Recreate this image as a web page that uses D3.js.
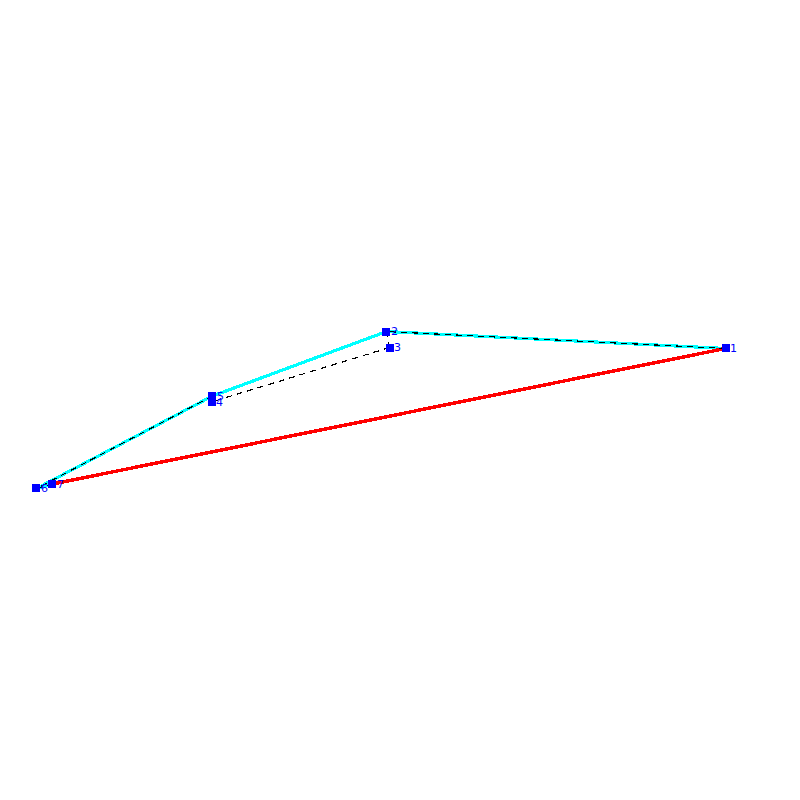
<!DOCTYPE html>
<html><head><meta charset="utf-8">
<script src="https://cdn.jsdelivr.net/npm/d3@7"></script>
<style>html,body{margin:0;padding:0;background:#fff}svg{display:block}</style>
</head><body><svg id="c" width="800" height="800"></svg>
<script>
const nodeLabels = ["1","2","3","4","5","6","7"];
const nodeX = [90.69, 48.31, 48.69, 26.44, 26.56, 4.56, 6.56];
const nodeY = [43.56, 41.44, 43.44, 50.25, 49.5, 61.06, 60.5];
const cyanEdges = [[1,2],[2,5],[5,6],[6,7]];
const dashedEdges = [[1,2],[2,3],[3,4],[4,5],[5,6],[6,7]];
const redEdges = [[7,1]];

const svg = d3.select("#c");
const x = d3.scaleLinear().domain([0,100]).range([0,800]);
const y = d3.scaleLinear().domain([0,100]).range([0,800]);
const px = i => x(nodeX[i-1]), py = i => y(nodeY[i-1]);

function edges(data, color, width, dash){
  svg.append("g").selectAll("line").data(data).join("line")
    .attr("x1",d=>px(d[0])).attr("y1",d=>py(d[0]))
    .attr("x2",d=>px(d[1])).attr("y2",d=>py(d[1]))
    .attr("stroke",color).attr("stroke-width",width)
    .attr("stroke-dasharray",dash||null)
    .attr("shape-rendering","crispEdges");
}
edges(cyanEdges,"#00ffff",3.2);
edges(redEdges,"#ff0000",3.5);
edges(dashedEdges,"#000000",1.2,"6,5");

svg.append("g").selectAll("rect").data(nodeLabels).join("rect")
  .attr("x",(d,i)=>x(nodeX[i])-4).attr("y",(d,i)=>y(nodeY[i])-4)
  .attr("width",8).attr("height",8).attr("fill","#0000ff")
  .attr("shape-rendering","crispEdges");
svg.append("g").selectAll("text").data(nodeLabels).join("text")
  .attr("x",(d,i)=>x(nodeX[i])+4.5).attr("y",(d,i)=>y(nodeY[i])+3.5)
  .attr("fill","#0000ff").attr("font-family","DejaVu Sans")
  .attr("font-size",11).text(d=>d);
</script></body></html>
